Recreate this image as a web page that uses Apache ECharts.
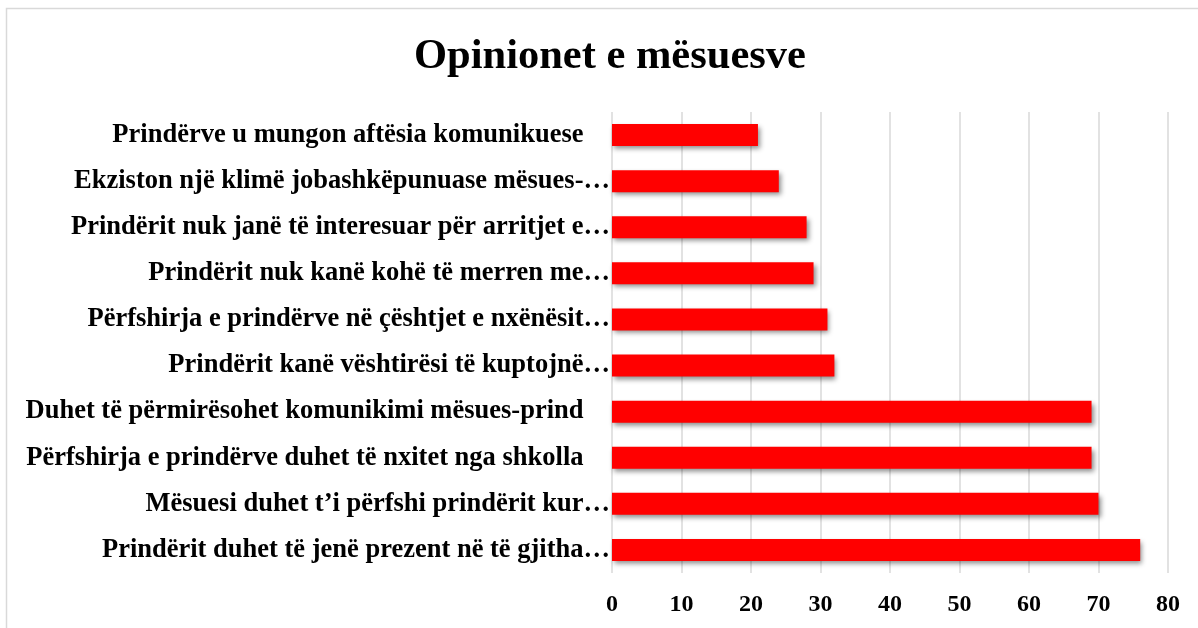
<!DOCTYPE html>
<html>
<head>
<meta charset="utf-8">
<script src="https://cdn.jsdelivr.net/npm/echarts@6/dist/echarts.min.js"></script>
<style>
  html, body { margin: 0; padding: 0; background: #fff; }
  #chart { width: 1198px; height: 628px; }
</style>
</head>
<body>
<div id="chart"></div>
<script>
// categories listed bottom to top (category axis starts at the bottom)
var categories = [
  'Prindërit duhet të jenë prezent në të gjitha…',
  'Mësuesi duhet t’i përfshi prindërit kur…',
  'Përfshirja e prindërve duhet të nxitet nga shkolla',
  'Duhet të përmirësohet komunikimi mësues-prind',
  'Prindërit kanë vështirësi të kuptojnë…',
  'Përfshirja e prindërve në çështjet e nxënësit…',
  'Prindërit nuk kanë kohë të merren me…',
  'Prindërit nuk janë të interesuar për arritjet e…',
  'Ekziston një klimë jobashkëpunuase mësues-…',
  'Prindërve u mungon aftësia komunikuese'
]
var values = [76, 70, 69, 69, 32, 31, 29, 28, 24, 21]
var xTicks = [0, 80, 10]

var font = '"Liberation Serif", "Times New Roman", serif'
var myChart = echarts.init(document.getElementById('chart'))
var option = {
  backgroundColor: '#fff',
  textStyle: { fontFamily: font },
  title: {
    text: 'Opinionet e mësuesve',
    left: 409,
    top: 31,
    textStyle: {
      fontFamily: font,
      fontSize: 42.5,
      fontWeight: 'bold',
      color: '#000'
    }
  },
  graphic: [{
    type: 'rect',
    shape: { x: 6.5, y: 8.5, width: 1300, height: 700 },
    style: { fill: 'none', stroke: '#d9d9d9', lineWidth: 1.5 },
    silent: true
  }],
  grid: {
    left: 612,
    right: 30,
    top: 112,
    bottom: 55
  },
  xAxis: {
    type: 'value',
    min: xTicks[0],
    max: xTicks[1],
    interval: xTicks[2],
    axisLine: { show: false },
    axisTick: { show: false },
    splitLine: { lineStyle: { color: '#d9d9d9', width: 1.5 } },
    axisLabel: {
      color: '#000',
      fontSize: 24,
      fontWeight: 'bold',
      fontFamily: font,
      margin: 20
    }
  },
  yAxis: {
    type: 'category',
    data: categories,
    axisLine: { show: false },
    axisTick: { show: false },
    axisLabel: {
      color: '#000',
      fontSize: 26.5,
      fontWeight: 'bold',
      fontFamily: font,
      margin: 2,
      // full (untruncated) labels sit a little left of the bars
      formatter: function (v) {
        return v.slice(-1) === '…' ? v : v + '\u00a0\u00a0\u00a0\u00a0'
      }
    }
  },
  series: [{
    type: 'bar',
    data: values,
    barWidth: 22,
    itemStyle: {
      color: '#ff0000',
      shadowColor: 'rgba(0,0,0,0.45)',
      shadowBlur: 5,
      shadowOffsetX: 2,
      shadowOffsetY: 3
    }
  }]
}
myChart.setOption(option)
</script>
</body>
</html>
